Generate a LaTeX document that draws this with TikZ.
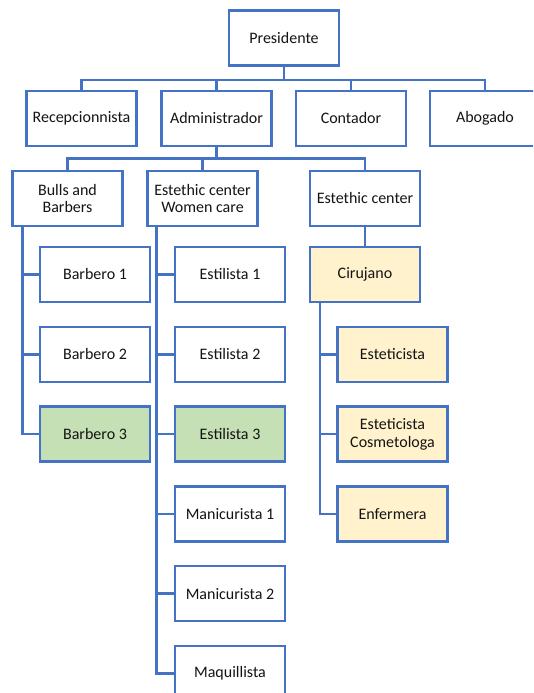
\documentclass[tikz,border=0pt]{standalone}
\usepackage{fontspec}
\setmainfont{Carlito}
\usepackage{tikz}
\usetikzlibrary{positioning, calc}
\definecolor{boxblue}{RGB}{68,114,196}
\definecolor{pastelgreen}{RGB}{197,224,180}
\definecolor{pastelyellow}{RGB}{255,242,204}
\definecolor{textgray}{RGB}{20,20,20}

\begin{document}
\begin{tikzpicture}[x=1pt, y=-1pt,
		puesto/.style={draw=boxblue, line width=2.5pt, fill=white, text=textgray, minimum width=110pt, minimum height=55pt, inner sep=0pt, align=center, font=\fontsize{16}{17.5}\selectfont},
		enlace/.style={boxblue, line width=2.5pt}]
		\useasboundingbox (0,0) rectangle (533,693);
		\clip (0,0) rectangle (533,693);
		\pgfmathsetmacro{\dy}{79.8}
		\node[puesto] (pres) at (284,38) {Presidente};
		\node[puesto] (recep) at (81.5,118.5) {Recepcionnista};
		\node[puesto] (admin) at (216.5,118.5) {Administrador};
		\node[puesto] (conta) at (351,118.5) {Contador};
		\node[puesto] (abog) at (485,118.5) {Abogado};
		\node[puesto] (bulls) at (67.5,198.5) {Bulls and\\Barbers};
		\node[puesto] (women) at (202.5,198.5) {Estethic center\\Women care};
		\node[puesto] (centro) at (365,198.5) {Estethic center};
		\node[puesto] (barb1) at (95,274.5) {Barbero 1};
		\node[puesto] (barb2) at (95,274.5+\dy) {Barbero 2};
		\node[puesto, fill=pastelgreen] (barb3) at (95,274.5+2*\dy) {Barbero 3};
		\node[puesto] (esti1) at (230,274.5) {Estilista 1};
		\node[puesto] (esti2) at (230,274.5+\dy) {Estilista 2};
		\node[puesto, fill=pastelgreen] (esti3) at (230,274.5+2*\dy) {Estilista 3};
		\node[puesto] (mani1) at (230,274.5+3*\dy) {Manicurista 1};
		\node[puesto] (mani2) at (230,274.5+4*\dy) {Manicurista 2};
		\node[puesto] (maqui) at (230,274.5+5*\dy) {Maquillista};
		\node[puesto, fill=pastelyellow] (ciru) at (365,274.5) {Cirujano};
		\node[puesto, fill=pastelyellow] (estet) at (392.5,274.5+\dy) {Esteticista};
		\node[puesto, fill=pastelyellow] (cosme) at (392.5,274.5+2*\dy) {Esteticista\\Cosmetologa};
		\node[puesto, fill=pastelyellow] (enfer) at (392.5,274.5+3*\dy) {Enfermera};
		\foreach \n in {recep,admin,conta,abog}
			\draw[enlace] (pres.south) -- ++(0,13) -| (\n.north);
		\foreach \n in {bulls,women,centro}
			\draw[enlace] (admin.south) -- ++(0,11) -| (\n.north);
		\foreach \n in {barb1,barb2,barb3}
			\draw[enlace] ([xshift=11pt]bulls.south west) |- (\n.west);
		\foreach \n in {esti1,esti2,esti3,mani1,mani2,maqui}
			\draw[enlace] ([xshift=10pt]women.south west) |- (\n.west);
		\draw[enlace] (centro.south) -- (ciru.north);
		\foreach \n in {estet,cosme,enfer}
			\draw[enlace] ([xshift=11pt]ciru.south west) |- (\n.west);
\end{tikzpicture}
\end{document}
